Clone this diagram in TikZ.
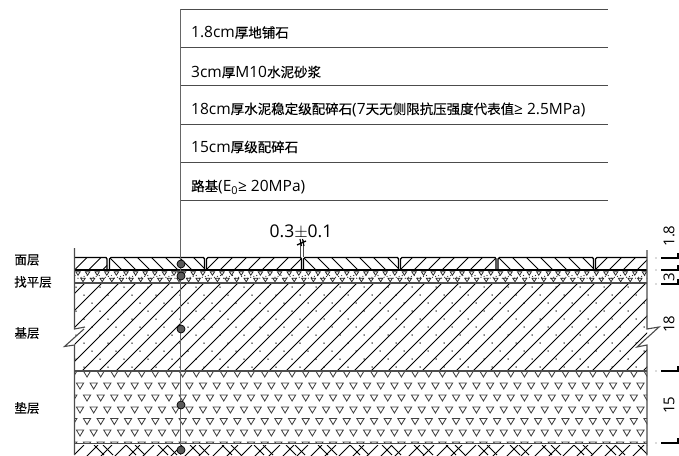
\documentclass[tikz,border=0pt]{standalone}
\usepackage{fontspec}
\setmainfont{Open Sans}
\newfontfamily\cjk[FakeBold=0.2]{Noto Sans CJK SC}
\usetikzlibrary{calc}
\tikzset{
  hair/.style={draw=black,line width=0.95pt},
  rule/.style={draw=black!70,line width=0.9pt},
  heavy/.style={draw=black,line width=1.3pt},
  tri/.style={draw=black!75,line width=0.85pt,fill=white},
  bubble/.style={circle,draw=black,fill=black!65,line width=0.7pt,inner sep=0pt,minimum size=8pt},
  calltext/.style={anchor=west,inner sep=0pt,font=\fontsize{15.5}{15.5}\selectfont},
  layername/.style={anchor=center,inner sep=0pt,font=\cjk\fontsize{12.5}{13}\selectfont},
  dimtext/.style={anchor=center,inner sep=0pt,rotate=90,font=\fontsize{15}{15}\selectfont},
}
\newcommand{\zh}[1]{{\cjk\fontsize{13.5}{13.5}\selectfont #1}}
% #1 left, #2 right, #3 1 = slash, -1 = backslash
\newcommand{\stonehatch}[3]{%
  \begin{scope}
  \clip (#1,258) rectangle (#2,270);
  \pgfmathsetmacro{\hstart}{#1-14}
  \foreach \hk in {0,1,...,9}{
    \pgfmathsetmacro{\hx}{#1-14+\hk*14}
    \pgfmathsetmacro{\hta}{\hx+6.5+6.5*#3}
    \pgfmathsetmacro{\htb}{\hx+6.5-6.5*#3}
    \draw[hair] (\hta pt,-257pt) -- (\htb pt,-270pt);
  }
  \end{scope}}
\begin{document}
\begin{tikzpicture}[x=1pt,y=-1pt]
\useasboundingbox (0,0) rectangle (679,455);
\fill[white] (0,0) rectangle (679,455);
% ---- layers, clipped
\begin{scope}
\clip (74.5,257) rectangle (647,455);
% stones hatch
\stonehatch{74.5}{107}{1}
\stonehatch{109}{204}{-1}
\stonehatch{206}{301}{1}
\stonehatch{303}{398}{-1}
\stonehatch{400}{496}{1}
\stonehatch{498}{593}{-1}
\stonehatch{595}{647}{1}
% base hatch
\begin{scope}
\clip (74.5,283) rectangle (647,371);
\foreach \x in {-90,-73,...,720}{
  \draw[hair] (\x+90,283) -- (\x,373);
}
\foreach \r in {0,1,...,10}{
  \foreach \c in {0,1,...,24}{
    \pgfmathsetmacro{\dx}{76+\c*24+mod(\r,3)*8}
    \pgfmathsetmacro{\dy}{287+\r*8}
    \fill[black] (\dx,\dy) circle (0.75pt);
  }
}
\end{scope}
% cushion triangles
\begin{scope}
\clip (74.5,371) rectangle (647,443);
\foreach \y/\o in {374/87,386/80,398/87,410/80,421.5/87,433/80,445/87}{
  \foreach \c in {-1,0,...,42}{
    \pgfmathsetmacro{\tx}{\o+\c*13.67}
    \draw[tri] (\tx-3.6,\y-3) -- (\tx+3.6,\y-3) -- (\tx,\y+3) -- cycle;
  }
}
\end{scope}
% mortar
\begin{scope}
\clip (74.5,270) rectangle (647,283);
\foreach \c in {0,1,...,60}{
  \pgfmathsetmacro{\tx}{78+\c*9.6}
  \draw[black!85,line width=0.75pt] (\tx-2.2,271.8) -- (\tx+2.2,271.8) -- (\tx,275.2) -- cycle;
  \draw[black!85,line width=0.75pt] (\tx+2.8,278.3) -- (\tx+7.2,278.3) -- (\tx+5,281.7) -- cycle;
}
\foreach \c in {0,1,...,190}{
  \pgfmathsetmacro{\dx}{75+\c*3.03}
  \pgfmathsetmacro{\dy}{275.5+mod(\c*7,4)*0.9}
  \fill[black!85] (\dx,\dy) circle (0.6pt);
}
\end{scope}
% bottom earth hatch
\begin{scope}
\clip (74.5,445) rectangle (647,455);
\foreach \x in {-30,-16,...,700}{
  \draw[hair] (\x+30,445) -- (\x,475);
}
\foreach \x in {108,140,...,700}{
  \draw[hair] (\x-5,445) -- (\x+5,455);
  \draw[hair] (\x-14,445) -- (\x-4,455);
}
\end{scope}
\end{scope}
% ---- stones outline
\draw[heavy] (74.5,257.5) -- (106,257.5) to[out=0,in=90] (107,259) -- (107,269);
\draw[heavy] (109.5,269) -- (109.5,259) to[out=90,in=180] (111,257.5) -- (203.5,257.5) to[out=0,in=90] (204.5,259) -- (204.5,269);
\draw[heavy] (206.5,269) -- (206.5,259) to[out=90,in=180] (208,257.5) -- (300.5,257.5) to[out=0,in=90] (301.5,259) -- (301.5,269);
\draw[heavy] (303.5,269) -- (303.5,259) to[out=90,in=180] (305,257.5) -- (397.5,257.5) to[out=0,in=90] (398.5,259) -- (398.5,269);
\draw[heavy] (400.5,269) -- (400.5,259) to[out=90,in=180] (402,257.5) -- (495,257.5) to[out=0,in=90] (496,259) -- (496,269);
\draw[heavy] (498,269) -- (498,259) to[out=90,in=180] (499.5,257.5) -- (592.5,257.5) to[out=0,in=90] (593.5,259) -- (593.5,269);
\draw[heavy] (595.5,269) -- (595.5,259) to[out=90,in=180] (597,257.5) -- (647,257.5);
% ---- layer lines
\draw[heavy] (74.5,270) -- (647,270);
\draw[rule,line width=1.3pt] (74.5,283) -- (647,283);
\draw[rule,line width=1.3pt] (74.5,371) -- (647,371);
\draw[rule,line width=1.3pt] (74.5,443.5) -- (647,443.5);
% ---- edges with breaks
\draw[rule,line width=1.1pt] (74.5,248) -- (74.5,329) -- (85,327);
\draw[rule,line width=1.1pt] (84,329) -- (64.5,346.5) -- (74.5,345) -- (74.5,455);
\draw[rule,line width=1.1pt] (647,250) -- (647,329) -- (659,327) -- (637,347) -- (647,345) -- (647,455);
% ---- call-out lines
\foreach \y/\n in {9/a,47/b,85/c,124/d,162/e,200/f}{
  \coordinate (rule\n L) at (180.5,\y);
  \coordinate (rule\n R) at (608,\y);
  \draw[rule] (rule\n L) -- (rule\n R);
}
\coordinate (leaderEnd) at (180.5,455);
\draw[draw=black!60,line width=1.1pt] (ruleaL) -- (leaderEnd);
\fill[black!65] (176.5,270.5) -- (185,270.5) -- (181,281) -- cycle;
\node[bubble] (d1) at (181,264) {};
\node[bubble] (d2) at (181,276) {};
\node[bubble] (d3) at (181,329) {};
\node[bubble] (d4) at (181,405) {};
\node[bubble] (d5) at (181,450) {};
% ---- texts
\node[calltext] (t1) at (191,32.5) {1.8cm\zh{厚地铺石}};
\node[calltext] (t2) at (191,72) {3cm\zh{厚}M10\zh{水泥砂浆}};
\node[calltext] (t3) at (191,109.5) {18cm\zh{厚水泥稳定级配碎石}(7\zh{天无侧限抗压强度代表值}≥ 2.5MPa)};
\node[calltext] (t4) at (191,147) {15cm\zh{厚级配碎石}};
\node[calltext] (t5) at (191,187) {\zh{路基}(E\textsubscript{0}≥ 20MPa)};
\node[layername] (n1) at (27,260) {面层};
\node[layername] (n2) at (33,282) {找平层};
\node[layername] (n3) at (27,333) {基层};
\node[layername] (n4) at (27,408) {垫层};
\node[anchor=center,inner sep=0pt,font=\fontsize{17.5}{17.5}\selectfont] (gap) at (301,232) {0.3$\pm$0.1};
% ---- gap dimension
\coordinate (gapL) at (300.5,257);
\coordinate (gapR) at (303.5,257);
\coordinate (gapLt) at (300.5,240);
\coordinate (gapRt) at (303.5,240);
\draw[rule,line width=0.7pt] (gapL) -- (gapLt);
\draw[rule,line width=0.7pt] (gapR) -- (gapRt);
\draw[black,line width=1.3pt] (297,245) -- (306,241);
\draw[black,line width=1.1pt] (300,239) -- (301.5,246);
\draw[black,line width=1.1pt] (302.5,239) -- (304,246);
% ---- right dimension
\foreach \y in {258,270,284,371,443}{
  \draw[black,line width=1.2pt] (661,\y) -- (678,\y) -- (678,\y-5);
  \fill[black!60] (656,\y) circle (0.7pt);
}
\node[dimtext] (dA) at (669,236) {1.8};
\node[dimtext] (dB) at (669,277) {3};
\node[dimtext] (dC) at (669,324) {18};
\node[dimtext] (dD) at (669,405) {15};
\end{tikzpicture}
\end{document}
